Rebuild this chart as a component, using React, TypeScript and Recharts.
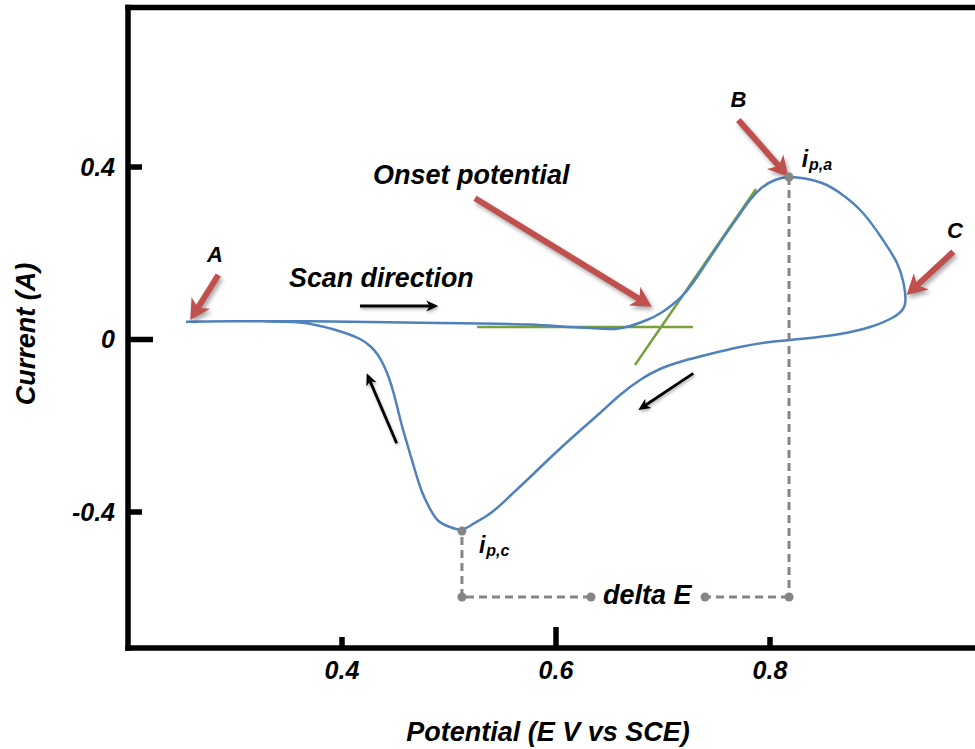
import React from 'react';
import { LineChart, Line, XAxis, YAxis, ReferenceLine, ReferenceDot } from 'recharts';

// Cyclic voltammogram: potential (V vs SCE) and current (A), in scan order A -> B -> C -> back
const potential = [
  0.2542, 0.2953, 0.3514, 0.4075, 0.4729, 0.529, 0.5757, 0.6131, 0.6411, 0.6551,
  0.6692, 0.685, 0.6972, 0.7084, 0.7196, 0.7318, 0.7505, 0.7692, 0.7813, 0.7925,
  0.8047, 0.8178, 0.8327, 0.8486, 0.8654, 0.8869, 0.9056, 0.9187, 0.9248, 0.9266,
  0.9243, 0.914, 0.8935, 0.8654, 0.8327, 0.8, 0.772, 0.7439, 0.7187, 0.6972,
  0.6785, 0.6598, 0.6411, 0.6178, 0.5944, 0.571, 0.557, 0.5449, 0.5336, 0.5224,
  0.5121, 0.5009, 0.4897, 0.4813, 0.4748, 0.4692, 0.4645, 0.4598, 0.4551, 0.4514,
  0.4477, 0.4439, 0.4393, 0.4336, 0.4262, 0.4168, 0.4056, 0.3925, 0.3776, 0.3607,
  0.3439, 0.328,
];
const current = [
  0.0413, 0.0424, 0.0424, 0.041, 0.0387, 0.0371, 0.0348, 0.029, 0.0255, 0.0243,
  0.0313, 0.0452, 0.0603, 0.08, 0.1055, 0.1449, 0.2145, 0.2817, 0.3235, 0.3525,
  0.3699, 0.3768, 0.3733, 0.3629, 0.3397, 0.2933, 0.2307, 0.1774, 0.131, 0.0962,
  0.0707, 0.0499, 0.029, 0.0128, 0.0023, -0.0058, -0.0174, -0.0336, -0.0499, -0.0684,
  -0.0939, -0.1287, -0.1704, -0.2214, -0.2748, -0.3304, -0.3629, -0.3907, -0.4116, -0.4278,
  -0.4406, -0.4348, -0.4197, -0.3884, -0.3536, -0.3119, -0.2725, -0.233, -0.1913, -0.1542,
  -0.1194, -0.0893, -0.0614, -0.0359, -0.0151, 0.0012, 0.0128, 0.0232, 0.0325, 0.0394,
  0.041, 0.0417,
];
const cvData = potential.map((x, i) => ({ x, y: current[i] }));

const xTicks = [0.4, 0.6, 0.8];
const yTicks = [0.4, 0, -0.4];
const xDomain = [0.2, 1.0];
const yDomain = [-0.7154, 0.7699];

// peaks
const anodicPeak = { x: 0.8178, y: 0.3768 };
const cathodicPeak = { x: 0.5121, y: -0.4441 };
const deltaELevel = -0.5971;
const deltaEGapLeft = 0.6327;
const deltaEGapRight = 0.7393;

// onset tangent lines
const baselineSeg = [{ x: 0.5262, y: 0.029 }, { x: 0.728, y: 0.029 }];
const tangentSeg = [{ x: 0.6738, y: -0.0591 }, { x: 0.7869, y: 0.349 }];

// red pointer arrows (tail -> tip)
const redArrows = [
  [{ x: 0.2844, y: 0.1496 }, { x: 0.2582, y: 0.0452 }],
  [{ x: 0.5243, y: 0.3274 }, { x: 0.6894, y: 0.0761 }],
  [{ x: 0.7704, y: 0.509 }, { x: 0.8171, y: 0.3775 }],
  [{ x: 0.9713, y: 0.2036 }, { x: 0.9277, y: 0.1032 }],
];
// black scan-direction arrows (tail -> tip)
const blackArrows = [
  [{ x: 0.4168, y: 0.0777 }, { x: 0.49, y: 0.0777 }],
  [{ x: 0.4511, y: -0.2407 }, { x: 0.4231, y: -0.0784 }],
  [{ x: 0.7283, y: -0.0784 }, { x: 0.6769, y: -0.1635 }],
];

// text annotations
const labels = [
  { text: 'A', x: 0.2813, y: 0.1797, size: 22, anchor: 'middle' },
  { text: 'B', x: 0.7704, y: 0.5398, size: 22, anchor: 'middle' },
  { text: 'C', x: 0.9729, y: 0.2365, size: 22, anchor: 'middle' },
  { text: 'Scan direction', x: 0.3505, y: 0.1217, size: 26.8, anchor: 'start' },
  { text: 'Onset potential', x: 0.429, y: 0.3606, size: 27, anchor: 'start' },
  { text: 'delta E', x: 0.6439, y: -0.6133, size: 27, anchor: 'start' },
];
const peakLabels = [
  { main: 'i', sub: 'p,a', x: 0.8296, y: 0.3993 },
  { main: 'i', sub: 'p,c', x: 0.528, y: -0.4951 },
];

const FONT = "'Liberation Sans', Arial, Helvetica, sans-serif";
const boldItalic = { fontFamily: FONT, fontWeight: 700, fontStyle: 'italic' as const, fill: '#000' };

const XTick = (props: any) => {
  const { x, y, payload } = props;
  const len = payload.value === 0.6 ? 21 : 11;
  return (
    <g>
      <line x1={x} x2={x} y1={y} y2={y - len} stroke="#000" strokeWidth={5.5} />
      <text x={x} y={y + 31} textAnchor="middle" fontSize={25} style={boldItalic}>
        {String(payload.value)}
      </text>
    </g>
  );
};

const YTick = (props: any) => {
  const { x, y, payload } = props;
  const len = payload.value === 0 ? 25 : 14;
  return (
    <g>
      <line x1={x} x2={x + len} y1={y} y2={y} stroke="#000" strokeWidth={5.5} />
      <text x={x - 13} y={y + 8.7} textAnchor="end" fontSize={25} style={boldItalic}>
        {String(payload.value)}
      </text>
    </g>
  );
};

const makeArrow = (color: string, width: number, headLen: number, headW: number, shadow: string) =>
  (p: any) => {
    const { x1, y1, x2, y2 } = p;
    const dx = x2 - x1;
    const dy = y2 - y1;
    const L = Math.hypot(dx, dy) || 1;
    const ux = dx / L;
    const uy = dy / L;
    const nx = -uy;
    const ny = ux;
    const bx = x2 - ux * headLen;
    const by = y2 - uy * headLen;
    const kx = x2 - ux * headLen * 0.72;
    const ky = y2 - uy * headLen * 0.72;
    const pts = [
      [x2, y2],
      [bx + (nx * headW) / 2, by + (ny * headW) / 2],
      [kx, ky],
      [bx - (nx * headW) / 2, by - (ny * headW) / 2],
    ]
      .map((q) => q.join(','))
      .join(' ');
    return (
      <g style={{ filter: shadow }}>
        <line x1={x1} y1={y1} x2={kx + ux} y2={ky + uy} stroke={color} strokeWidth={width} />
        <polygon points={pts} fill={color} />
      </g>
    );
  };

const redArrowShape = makeArrow('#C0504D', 6, 20, 22, 'drop-shadow(2px 3px 2px rgba(0,0,0,0.35))');
const blackArrowShape = makeArrow('#000000', 2.8, 12, 11, 'drop-shadow(1px 2px 1.5px rgba(0,0,0,0.3))');

const textShape = (l: any) => (p: any) => (
  <text x={p.cx} y={p.cy} textAnchor={l.anchor} fontSize={l.size} style={boldItalic}>
    {l.text}
  </text>
);

const peakShape = (l: any) => (p: any) => (
  <text x={p.cx} y={p.cy} fontSize={23} style={boldItalic}>
    {l.main}
    <tspan fontSize={16} dy={3} dx={1}>
      {l.sub}
    </tspan>
  </text>
);

const grey = '#858585';
const dashed = { stroke: grey, strokeWidth: 3, strokeDasharray: '8 5' };

export default function App() {
  return (
    <div
      style={{
        position: 'absolute',
        left: 0,
        top: 0,
        width: 975,
        height: 749,
        overflow: 'hidden',
        background: '#fff',
      }}
    >
      <LineChart
        width={990}
        height={749}
        margin={{ top: 7.5, right: 6, left: 0, bottom: 0 }}
      >
        <XAxis
          type="number"
          dataKey="x"
          domain={xDomain}
          ticks={xTicks}
          allowDataOverflow
          height={101}
          tickSize={0}
          tickMargin={0}
          tickLine={false}
          tick={<XTick />}
          axisLine={{ stroke: '#000', strokeWidth: 5.5, strokeLinecap: 'square' }}
          label={{
            content: () => (
              <text x={548} y={741} textAnchor="middle" fontSize={27} style={boldItalic}>
                Potential (E V vs SCE)
              </text>
            ),
          }}
        />
        <YAxis
          type="number"
          dataKey="y"
          domain={yDomain}
          ticks={yTicks}
          allowDataOverflow
          width={128}
          tickSize={0}
          tickMargin={0}
          tickLine={false}
          tick={<YTick />}
          axisLine={{ stroke: '#000', strokeWidth: 5.5, strokeLinecap: 'square' }}
          label={{
            content: () => (
              <text
                x={35}
                y={334}
                transform="rotate(-90 35 334)"
                textAnchor="middle"
                fontSize={27}
                style={boldItalic}
              >
                Current (A)
              </text>
            ),
          }}
        />
        <ReferenceLine
          y={yDomain[1]}
          stroke="#000"
          strokeWidth={5.5}
          strokeLinecap="square"
          ifOverflow="visible"
        />

        {/* onset construction lines */}
        <ReferenceLine segment={baselineSeg} stroke="#77A03A" strokeWidth={2.5} ifOverflow="visible" />
        <ReferenceLine segment={tangentSeg} stroke="#77A03A" strokeWidth={2.5} ifOverflow="visible" />

        {/* delta E construction */}
        <ReferenceLine
          segment={[anodicPeak, { x: anodicPeak.x, y: deltaELevel }]}
          {...dashed}
          ifOverflow="visible"
        />
        <ReferenceLine
          segment={[{ x: anodicPeak.x, y: deltaELevel }, { x: deltaEGapRight, y: deltaELevel }]}
          {...dashed}
          ifOverflow="visible"
        />
        <ReferenceLine
          segment={[{ x: deltaEGapLeft, y: deltaELevel }, { x: cathodicPeak.x, y: deltaELevel }]}
          {...dashed}
          ifOverflow="visible"
        />
        <ReferenceLine
          segment={[{ x: cathodicPeak.x, y: deltaELevel }, cathodicPeak]}
          {...dashed}
          ifOverflow="visible"
        />

        <Line
          data={cvData}
          dataKey="y"
          type="natural"
          stroke="#4F81BD"
          strokeWidth={2.5}
          dot={false}
          activeDot={false}
          isAnimationActive={false}
        />

        {[
          anodicPeak,
          cathodicPeak,
          { x: anodicPeak.x, y: deltaELevel },
          { x: deltaEGapRight, y: deltaELevel },
          { x: deltaEGapLeft, y: deltaELevel },
          { x: cathodicPeak.x, y: deltaELevel },
        ].map((d, i) => (
          <ReferenceDot key={'d' + i} x={d.x} y={d.y} r={4.5} fill={grey} stroke="none" ifOverflow="visible" />
        ))}

        {redArrows.map((s, i) => (
          <ReferenceLine key={'r' + i} segment={s} stroke="#C0504D" ifOverflow="visible" shape={redArrowShape} />
        ))}
        {blackArrows.map((s, i) => (
          <ReferenceLine key={'b' + i} segment={s} stroke="#000" ifOverflow="visible" shape={blackArrowShape} />
        ))}

        {labels.map((l, i) => (
          <ReferenceDot key={'t' + i} x={l.x} y={l.y} r={0} ifOverflow="visible" shape={textShape(l)} />
        ))}
        {peakLabels.map((l, i) => (
          <ReferenceDot key={'p' + i} x={l.x} y={l.y} r={0} ifOverflow="visible" shape={peakShape(l)} />
        ))}
      </LineChart>
    </div>
  );
}
